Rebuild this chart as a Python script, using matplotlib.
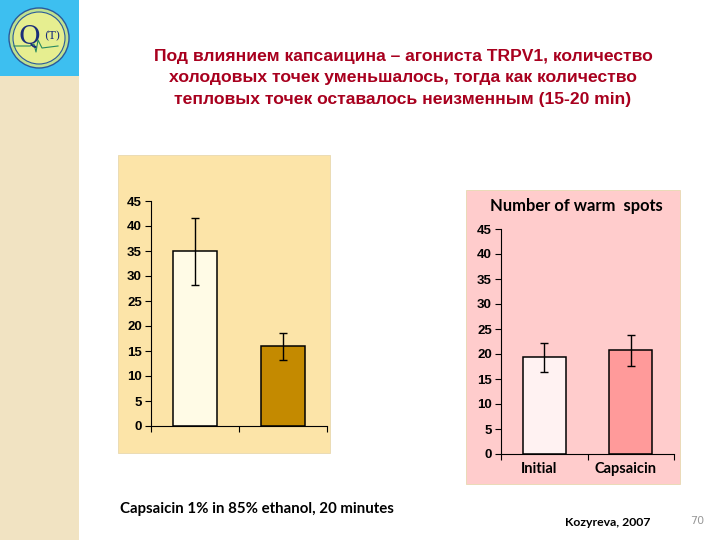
import matplotlib.pyplot as plt
import matplotlib.transforms as mtransforms
from matplotlib.patches import Rectangle, Circle

# data
cold_labels = ['', '']
cold_values = [35, 16]
cold_low = [28.3, 13.2]
cold_high = [41.6, 18.6]

warm_labels = ['Initial', 'Capsaicin']
warm_values = [19.5, 20.9]
warm_low = [16.5, 17.7]
warm_high = [22.3, 23.9]

title_lines = ['Под влиянием капсаицина – агониста TRPV1, количество',
               'холодовых точек уменьшалось, тогда как количество',
               'тепловых точек оставалось неизменным (15-20 min)']

fig = plt.figure(figsize=(7.2, 5.4), dpi=100)
fig.patch.set_facecolor('white')

# sidebar and logo
fig.patches.append(Rectangle((0, 0), 79/720, 1 - 76/540, transform=fig.transFigure,
                             facecolor='#F1E3C2', edgecolor='none', zorder=-5))
fig.patches.append(Rectangle((0, 1 - 76/540), 79/720, 76/540, transform=fig.transFigure,
                             facecolor='#3DBFF0', edgecolor='none', zorder=-5))
lax = fig.add_axes([0, 1 - 76/540, 79/720, 76/540])
lax.set_xlim(0, 79)
lax.set_ylim(76, 0)
lax.set_aspect('equal')
lax.axis('off')
lax.add_patch(Circle((39, 38), 30, facecolor='#BFE090', edgecolor='#2A5A9A', lw=1))
lax.add_patch(Circle((39, 38), 26, facecolor='#E6EE90', edgecolor='#2A5A9A', lw=0.8))
lax.plot([14, 30, 34, 36, 38, 42, 58], [46, 46, 44, 52, 40, 48, 46], color='#2A8A60', lw=0.8)
lax.text(29, 37, 'Q', fontsize=19, color='#1A2E7A', ha='center', va='center', family='DejaVu Serif')
lax.text(52, 36, '(T)', fontsize=8, color='#1A2E7A', ha='center', va='center', family='DejaVu Serif')

# title
for i, line in enumerate(title_lines):
    fig.text(403/720, 1 - (56 + 22*i)/540, line, ha='center', va='center',
             fontsize=12.6, fontweight='bold', color='#A8001E', family='Liberation Sans')

def panel(x0, y0, x1, y1, color):
    fig.patches.append(Rectangle((x0/720, 1 - y1/540), (x1 - x0)/720, (y1 - y0)/540,
                                 transform=fig.transFigure, facecolor=color,
                                 edgecolor='#E8D8B0', lw=0.6, zorder=-5))

def bar_chart(ax, values, low, high, colors, labels):
    x = list(range(len(values)))
    err = [[v - l for v, l in zip(values, low)], [h - v for v, h in zip(values, high)]]
    ax.bar(x, values, width=0.5, color=colors, edgecolor='black', lw=1.1)
    ax.errorbar(x, values, yerr=err, fmt='none', ecolor='black', elinewidth=1, capsize=3)
    ax.set_xlim(-0.5, len(values) - 0.5)
    ax.set_ylim(0, 45)
    ax.set_yticks(range(0, 50, 5))
    ax.set_facecolor('none')
    for s in ['top', 'right']:
        ax.spines[s].set_visible(False)
    ax.spines['left'].set_linewidth(0.8)
    ax.spines['bottom'].set_linewidth(0.8)
    ax.tick_params(axis='y', length=4, width=0.8, labelsize=9.5, pad=2.5)
    ax.set_xticks([-0.5, 0.5, 1.5])
    ax.set_xticklabels([])
    ax.tick_params(axis='x', which='major', direction='out', length=4, width=0.8)
    for t in ax.get_yticklabels():
        t.set_fontweight('bold')
        t.set_family('Liberation Sans')
    ax.set_xticks(x, minor=True)
    ax.set_xticklabels(labels, minor=True)
    ax.tick_params(axis='x', which='minor', length=0, labelsize=10.5, pad=6)
    shift = mtransforms.ScaledTranslation(-5/100, 0, fig.dpi_scale_trans)
    for t in ax.get_xticklabels(minor=True):
        t.set_fontweight('bold')
        t.set_family('Lato')
        t.set_transform(t.get_transform() + shift)

# left chart (cold spots)
panel(118, 155, 330, 453, '#FCE4A8')
ax1 = fig.add_axes([151/720, 1 - 426/540, 176/720, 225/540])
bar_chart(ax1, cold_values, cold_low, cold_high, ['#FFFBE6', '#C48A00'], cold_labels)

# right chart (warm spots)
panel(466, 190, 680, 484, '#FFCCCC')
ax2 = fig.add_axes([501/720, 1 - 454/540, 173/720, 225/540])
bar_chart(ax2, warm_values, warm_low, warm_high, ['#FFF2F2', '#FF9A9A'], warm_labels)
fig.text(576/720, 1 - 206/540, 'Number of warm  spots', ha='center', va='center',
         fontsize=11.9, family='Lato', fontweight='bold')

# footer texts
fig.text(120/720, 1 - 509/540, 'Capsaicin 1% in 85% ethanol, 20 minutes', ha='left', va='center',
         fontsize=10.8, family='Lato', fontweight='bold')
fig.text(565/720, 1 - 522/540, 'Kozyreva, 2007', ha='left', va='center',
         fontsize=8.8, family='Lato', fontweight='bold')
fig.text(697/720, 1 - 521/540, '70', ha='center', va='center', fontsize=8, color='#999999')

fig.savefig('out.png', dpi=100)
